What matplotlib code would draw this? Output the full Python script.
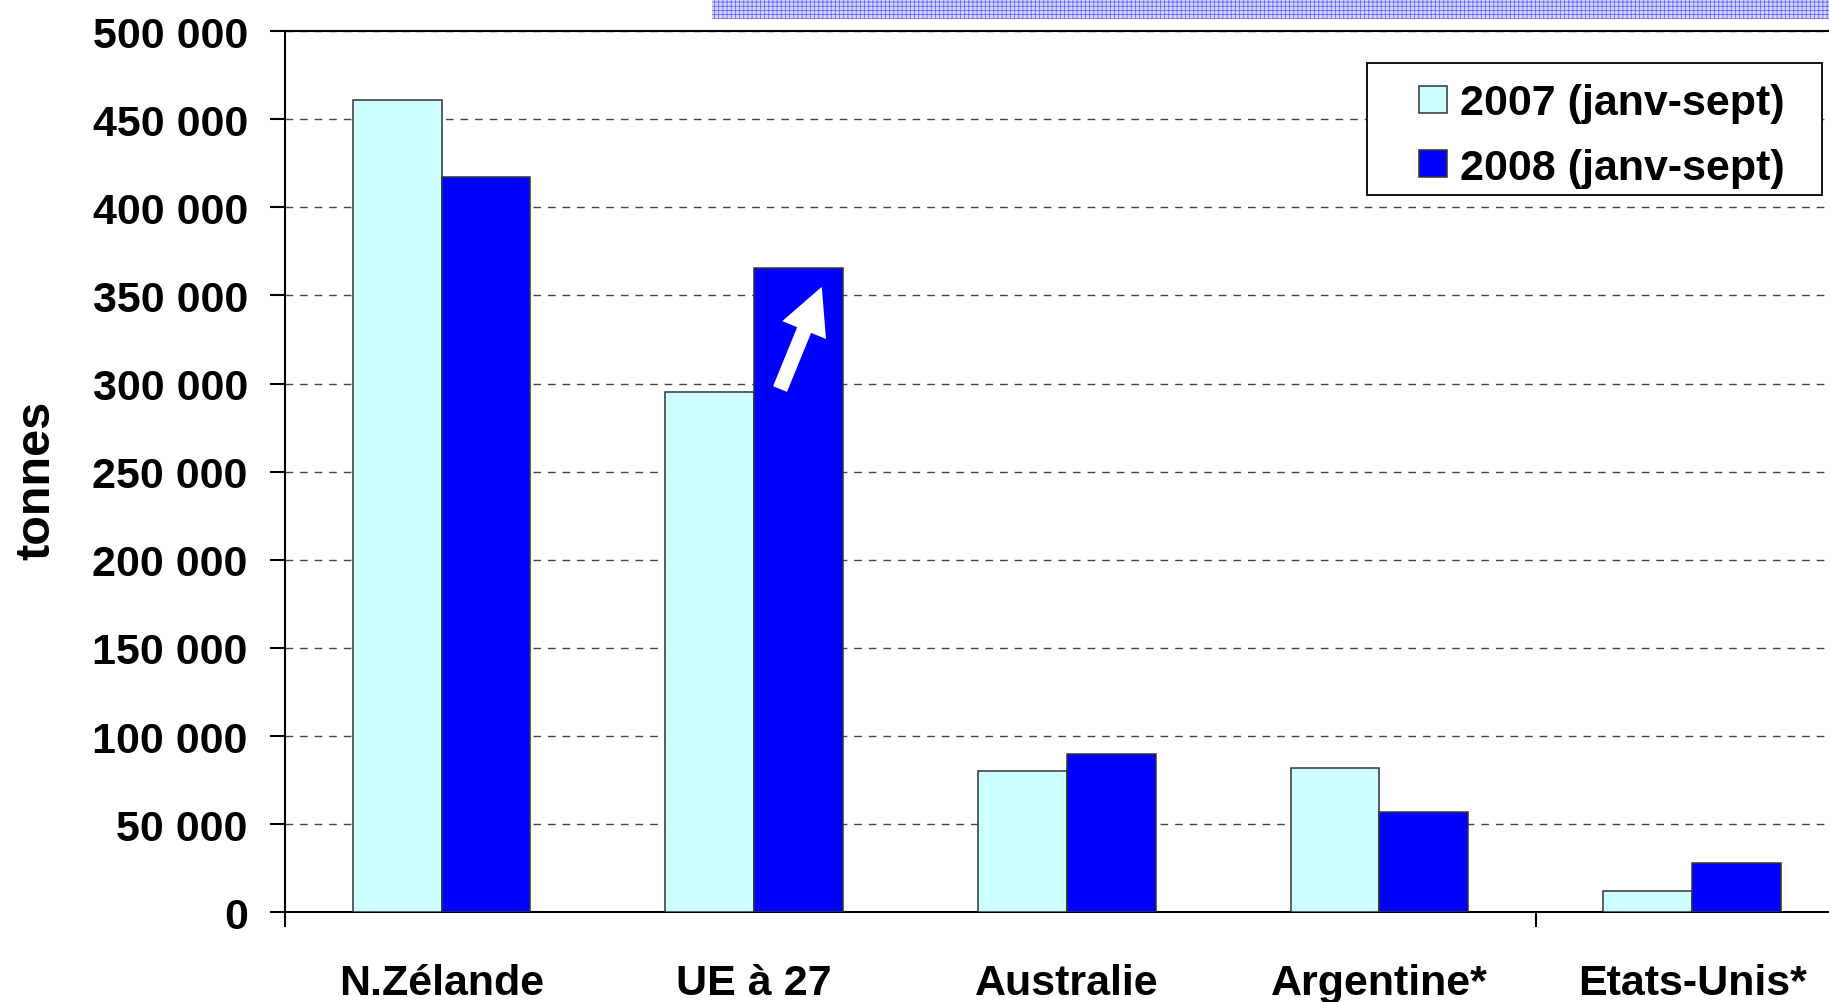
import matplotlib
matplotlib.use("Agg")
import matplotlib.pyplot as plt
from matplotlib.patches import Rectangle
from matplotlib.ticker import FuncFormatter
import numpy as np

# ---- data ----
categories = ["N.Zélande", "UE à 27", "Australie", "Argentine*", "Etats-Unis*"]
labels = ["2007 (janv-sept)", "2008 (janv-sept)"]
v2007 = [461000, 295000, 80000, 82000, 12000]
v2008 = [417000, 365500, 90000, 57000, 28000]
colors = ["#CCFFFF", "#0000FF"]

plt.rcParams["font.family"] = ["Liberation Sans", "DejaVu Sans"]
plt.rcParams["font.weight"] = "bold"
plt.rcParams["hatch.linewidth"] = 0.6

W, H = 1829, 1003
fig = plt.figure(figsize=(W / 100, H / 100), dpi=100)
ax = fig.add_axes([0.156, 0.0894, 0.8546, 0.8786])

x = np.arange(len(categories))
w = 0.284
ax.bar(x - w / 2, v2007, w, color=colors[0], edgecolor="#333333",
       linewidth=1.1, label=labels[0], zorder=3)
ax.bar(x + w / 2, v2008, w, color=colors[1], edgecolor="#333333",
       linewidth=1.1, label=labels[1], zorder=3)

ax.set_xlim(-0.5, 4.5)
ax.set_ylim(0, 500000)
ax.set_yticks(np.arange(0, 500001, 50000))
ax.yaxis.set_major_formatter(FuncFormatter(lambda v, p: f"{v:,.0f}".replace(",", " ")))
ax.grid(axis="y", color="#444444", linestyle=(0, (5.5, 5)), linewidth=1.0, zorder=0)

ax.set_xticks(x, categories)
ax.set_xticks([-0.5, 3.5, 4.5], minor=True)
ax.tick_params(axis="x", which="major", length=0, pad=36.5, labelsize=31)
ax.tick_params(axis="x", which="minor", length=11, width=1.5, direction="out")
ax.tick_params(axis="y", length=11, width=1.5, direction="out", pad=16, labelsize=31)
for lab in ax.get_xticklabels() + ax.get_yticklabels():
    lab.set_fontweight("bold")

for s in ax.spines.values():
    s.set_linewidth(1.5)
    s.set_color("black")

ax.set_ylabel("tonnes", fontsize=35, fontweight="bold")
ax.yaxis.set_label_coords(-0.1446, 0.491)

# white arrow on the UE 2008 bar
ax.annotate("", xy=(1.216, 354900), xytext=(1.0825, 296900),
            arrowprops=dict(arrowstyle="simple,head_width=1.7,head_length=1.68,tail_width=0.54",
                            mutation_scale=20, fc="white", ec="none",
                            shrinkA=0, shrinkB=0), zorder=5)

# legend: frame drawn separately, entries placed inside it
frame = Rectangle((1367 / W, 1 - 196 / H), (1822 - 1367) / W, (196 - 64) / H,
                  transform=fig.transFigure, facecolor="white",
                  edgecolor="black", linewidth=1.3, zorder=6)
fig.add_artist(frame)
leg = ax.legend(loc="upper right", bbox_to_anchor=(1785 / W, 1 - 84.5 / H),
                bbox_transform=fig.transFigure, borderaxespad=0,
                prop={"size": 31, "weight": "bold"}, frameon=False,
                handlelength=0.65, handleheight=0.6,
                handletextpad=0.3, labelspacing=0.56, borderpad=0)
leg.set_zorder(7)
fig.add_artist(leg)

# clipped title banner at the top
banner = Rectangle((712 / W, 1 - 20 / H), 1 - 712 / W, 20 / H,
                   transform=fig.transFigure, facecolor="#d4d4ff",
                   edgecolor="#6a6aff", hatch="++++", linewidth=0)
fig.add_artist(banner)

fig.savefig("out.png", dpi=100)
